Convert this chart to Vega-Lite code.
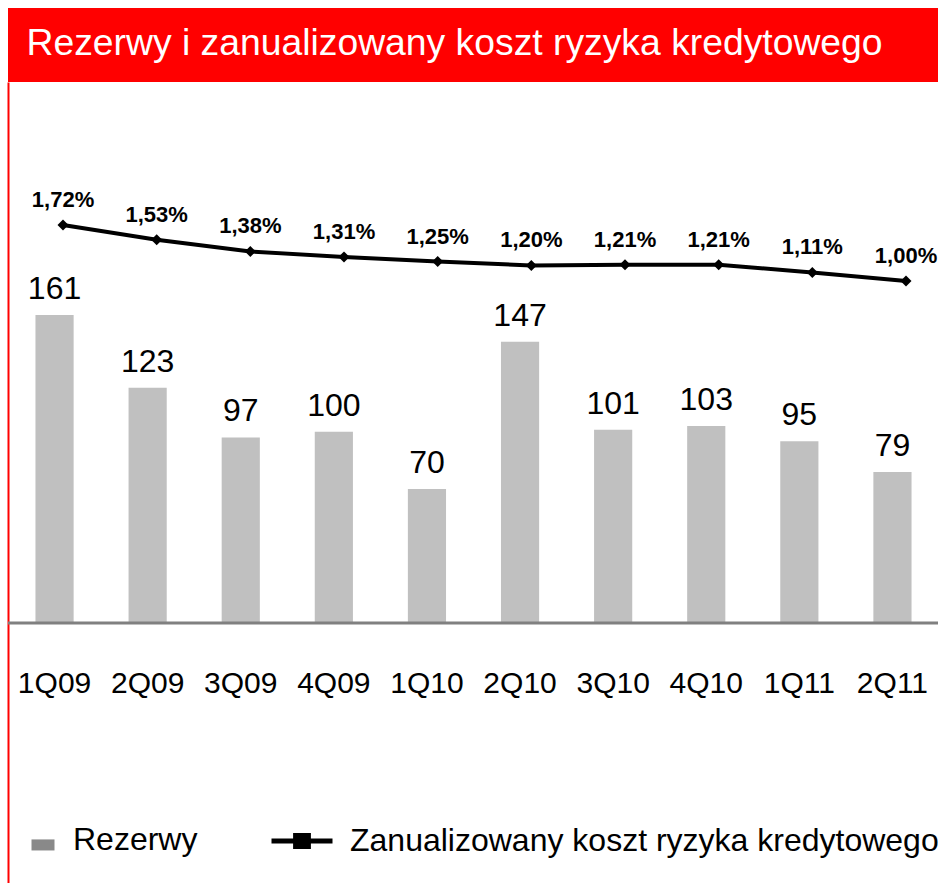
{
  "$schema": "https://vega.github.io/schema/vega-lite/v6.json",
  "background": "white",
  "padding": {"left": 6, "top": 8, "right": 0, "bottom": 0},
  "spacing": 0,
  "config": {
    "font": "Liberation Sans",
    "view": {"stroke": null},
    "axis": {"grid": false},
    "locale": {"number": {"decimal": ",", "thousands": " ", "grouping": [3], "currency": ["", " zł"]}}
  },
  "vconcat": [
    {
      "width": 931,
      "height": 74,
      "data": {"values": [{"t": "Rezerwy i zanualizowany koszt ryzyka kredytowego"}]},
      "layer": [
        {"mark": {"type": "rect", "color": "#ff0000"}},
        {
          "mark": {"type": "text", "align": "left", "baseline": "alphabetic", "dx": -447, "dy": 10, "fontSize": 37.3, "color": "#ffffff", "font": "Liberation Sans"},
          "encoding": {"text": {"field": "t", "type": "nominal"}}
        }
      ]
    },
    {
      "width": 931,
      "height": 801,
      "data": {
        "values": [
          {"q": "1Q09", "rez": 161, "k": 0.0172},
          {"q": "2Q09", "rez": 123, "k": 0.0153},
          {"q": "3Q09", "rez": 97, "k": 0.0138},
          {"q": "4Q09", "rez": 100, "k": 0.0131},
          {"q": "1Q10", "rez": 70, "k": 0.0125},
          {"q": "2Q10", "rez": 147, "k": 0.0120},
          {"q": "3Q10", "rez": 101, "k": 0.0121},
          {"q": "4Q10", "rez": 103, "k": 0.0121},
          {"q": "1Q11", "rez": 95, "k": 0.0111},
          {"q": "2Q11", "rez": 79, "k": 0.0100}
        ]
      },
      "layer": [
        {
          "encoding": {
            "x": {
              "field": "q", "type": "nominal", "sort": null,
              "scale": {"paddingInner": 0.59, "paddingOuter": 0.295},
              "axis": {
                "orient": "bottom", "offset": -215, "labelPadding": 0, "tickSize": 0,
                "domain": false, "ticks": false, "title": null,
                "labelFontSize": 30, "labelColor": "#000000", "labelFont": "Liberation Sans",
                "labelAngle": 0, "labelBaseline": "top", "labelOverlap": false
              }
            },
            "y": {
              "field": "rez", "type": "quantitative",
              "scale": {"domain": [-135.9, 282.8], "nice": false},
              "axis": {
                "orient": "left", "domainColor": "#ff0000", "domainWidth": 2,
                "labels": false, "ticks": false, "tickSize": 0, "title": null, "grid": false
              }
            }
          },
          "layer": [
            {
              "mark": {"type": "bar", "color": "#c0c0c0"}
            },
            {
              "mark": {"type": "text", "baseline": "alphabetic", "dy": -16, "fontSize": 32, "color": "#000000"},
              "encoding": {"text": {"field": "rez", "type": "quantitative"}}
            }
          ]
        },
        {
          "data": {"values": [{"b": 0}]},
          "mark": {"type": "rule", "color": "#808080", "strokeWidth": 3},
          "encoding": {
            "y": {"datum": 0, "type": "quantitative", "scale": {"domain": [-135.9, 282.8], "nice": false}, "axis": null}
          }
        },
        {
          "data": {"values": []},
          "mark": {"type": "square"},
          "encoding": {
            "fill": {
              "datum": "Rezerwy",
              "scale": {"range": ["#898989"]},
              "legend": {
                "orient": "none", "legendX": 19, "legendY": 816, "title": null,
                "symbolType": "M-1,-0.05L1,-0.05L1,0.91L-1,0.91Z", "symbolSize": 529, "padding": 0,
                "symbolStrokeWidth": 0, "symbolOpacity": 1,
                "labelFontSize": 32, "labelFont": "Liberation Sans", "labelColor": "#000000",
                "labelOffset": 14, "labelLimit": 0
              }
            }
          }
        },
        {
          "encoding": {
            "x": {
              "field": "q", "type": "nominal", "sort": null,
              "scale": {"type": "point", "range": [55, 898], "padding": 0},
              "axis": null
            },
            "y": {
              "field": "k", "type": "quantitative",
              "scale": {"domain": [-0.06738, 0.03558], "nice": false, "zero": false},
              "axis": null
            }
          },
          "layer": [
            {
              "mark": {"type": "line", "strokeWidth": 4},
              "encoding": {
                "stroke": {
                  "datum": "Zanualizowany koszt ryzyka kredytowego",
                  "scale": {"range": ["#000000"]},
                  "legend": {
                    "orient": "none", "legendX": 261, "legendY": 800, "title": null,
                    "symbolType": "M-1,0L1,0M-0.21,-0.18L0.21,-0.18L0.21,0.18L-0.21,0.18Z",
                    "symbolSize": 3721, "symbolStrokeWidth": 5, "padding": 0,
                    "labelFontSize": 32, "labelFont": "Liberation Sans", "labelColor": "#000000",
                    "labelOffset": 15, "labelLimit": 0,
                    "encode": {"symbols": {"update": {"fill": {"value": "#000000"}, "stroke": {"value": "#000000"}, "strokeWidth": {"value": 5}, "opacity": {"value": 1}}}}
                  }
                }
              }
            },
            {
              "mark": {"type": "point", "shape": "diamond", "filled": true, "size": 121, "color": "#000000", "opacity": 1}
            },
            {
              "mark": {"type": "text", "baseline": "alphabetic", "dy": -18, "fontSize": 22, "fontWeight": "bold", "color": "#000000"},
              "encoding": {"text": {"field": "k", "type": "quantitative", "format": ".2%"}}
            }
          ]
        }
      ],
      "resolve": {"scale": {"x": "independent", "y": "independent"}}
    }
  ]
}
